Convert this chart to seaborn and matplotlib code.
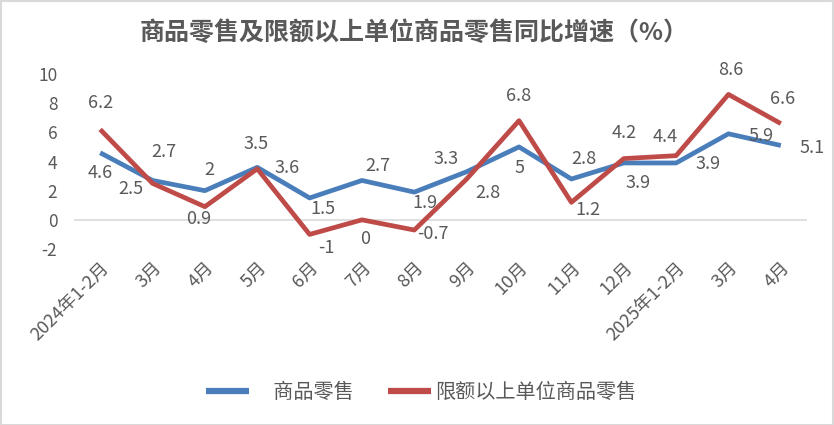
import numpy as np
import pandas as pd
import matplotlib
matplotlib.use("Agg")
import matplotlib.pyplot as plt
from matplotlib.patches import Rectangle
import seaborn as sns

categories = ["2024年1-2月", "3月", "4月", "5月", "6月", "7月", "8月", "9月",
              "10月", "11月", "12月", "2025年1-2月", "3月", "4月"]
retail = [4.6, 2.7, 2, 3.6, 1.5, 2.7, 1.9, 3.3, 5, 2.8, 3.9, 3.9, 5.9, 5.1]
above_quota = [6.2, 2.5, 0.9, 3.5, -1, 0, -0.7, 2.8, 6.8, 1.2, 4.2, 4.4, 8.6, 6.6]
series_names = ["商品零售", "限额以上单位商品零售"]
title = "商品零售及限额以上单位商品零售同比增速（%）"
y_ticks = [-2, 0, 2, 4, 6, 8, 10]

# label offsets in pixels (dx, dy), dy positive = up
retail_off = [(0, -20), (11, 28), (4, 21), (30, -1), (13, -11), (16, 14), (11, -11),
              (-21, 13), (0, -21), (13, 20), (14, -20), (32, -1), (33, -2), (31, -3)]
quota_off = [(0, 26), (-22, -6), (-6, -12), (-1, 25), (17, -14), (3, -19), (19, -4),
             (21, -14), (0, 25), (17, -8), (0, 26), (-11, 19), (2, 24), (2, 25)]

sns.set_theme(style="white")
plt.rcParams['font.family'] = ['Noto Sans CJK SC', 'DejaVu Sans']

blue = "#4A7EBB"
red = "#BE4B48"
gray_text = "#595959"

xpos = np.arange(len(categories))
df = pd.DataFrame({
    "x": np.concatenate([xpos, xpos]),
    "value": retail + above_quota,
    "series": [series_names[0]] * len(retail) + [series_names[1]] * len(above_quota),
})

fig = plt.figure(figsize=(8.34, 4.25), dpi=100)
ax = fig.add_axes([74 / 834, 1 - 249 / 425, (807 - 74) / 834, (249 - 74) / 425])

ax.axhline(0, color="#D9D9D9", lw=1.2, zorder=1)
sns.lineplot(data=df, x="x", y="value", hue="series", hue_order=series_names,
             palette=[blue, red], linewidth=3.4, ax=ax, legend=True, zorder=3,
             solid_capstyle="butt")

ax.set_xlim(-0.5, len(categories) - 0.5)
ax.set_ylim(-2, 10)
ax.set_yticks(y_ticks)
ax.set_yticklabels([str(t) for t in y_ticks], fontsize=12.5, color=gray_text)
ax.set_xticks(xpos)
ax.set_xticklabels(categories, rotation=45, ha="right", va="top",
                   rotation_mode="anchor", fontsize=13, color=gray_text)
ax.tick_params(axis="y", length=0, pad=12)
ax.tick_params(axis="x", length=0, pad=7)
ax.set_xlabel("")
ax.set_ylabel("")
for s in ax.spines.values():
    s.set_visible(False)

for i, v in enumerate(retail):
    dx, dy = retail_off[i]
    ax.annotate(f"{v:g}", (xpos[i], v), xytext=(dx, dy), textcoords="offset pixels",
                ha="center", va="center", fontsize=13, color=gray_text, zorder=5)
for i, v in enumerate(above_quota):
    dx, dy = quota_off[i]
    ax.annotate(f"{v:g}", (xpos[i], v), xytext=(dx, dy), textcoords="offset pixels",
                ha="center", va="center", fontsize=13, color=gray_text, zorder=5)

fig.text(414 / 834, 1 - 33 / 425, title, ha="center", va="center",
         fontsize=18, fontweight="bold", color=gray_text)

leg = ax.legend(loc="center", bbox_to_anchor=(421 / 834, 1 - 393 / 425),
                bbox_transform=fig.transFigure, ncol=2, frameon=False,
                fontsize=14.5, handlelength=2.15, columnspacing=1.7, handletextpad=0.2)
leg.get_texts()[0].set_text("\u2002\u2002" + series_names[0])
for t in leg.get_texts():
    t.set_color(gray_text)
for h in leg.get_lines():
    h.set_linewidth(4.5)

fig.patches.append(Rectangle((0.5 / 834, 0.5 / 425), 1 - 1.5 / 834, 1 - 1.5 / 425,
                             transform=fig.transFigure, fill=False,
                             edgecolor="#D9D9D9", linewidth=1.5))

fig.savefig("out.png", dpi=100)
